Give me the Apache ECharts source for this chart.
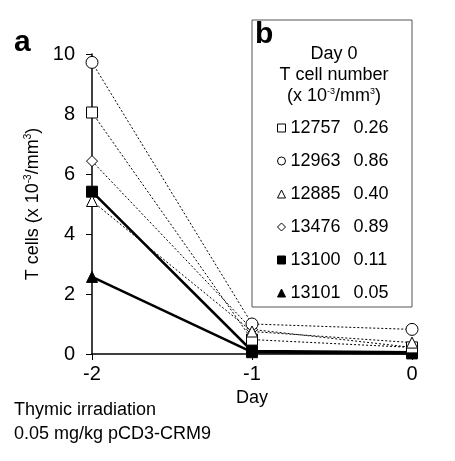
<!DOCTYPE html>
<html><head><meta charset="utf-8">
<script src="https://cdn.jsdelivr.net/npm/echarts@6/dist/echarts.min.js"></script>
<style>html,body{margin:0;padding:0;background:#fff}#c{width:455px;height:461px}</style>
</head><body><div id="c"></div>
<script>
var days = [-2, -1, 0];
var animalIds = ['12757', '12963', '12885', '13476', '13100', '13101'];
var day0Values = ['0.26', '0.86', '0.40', '0.89', '0.11', '0.05'];
var s12757 = [8.05, 0.48, 0.22];
var s12963 = [9.72, 1.0, 0.82];
var s12885 = [5.1, 0.75, 0.38];
var s13476 = [6.43, 0.82, 0.22];
var s13100 = [5.41, 0.1, 0.06];
var s13101 = [2.57, 0.06, 0.02];
var yTicks = [0, 2, 4, 6, 8, 10];
var xTicks = [-2, -1, 0];

var FONT = '"Liberation Sans", Arial, sans-serif';
var values = [s12757, s12963, s12885, s13476, s13100, s13101];
var symbols = ['rect', 'circle', 'triangle', 'diamond', 'rect', 'triangle'];
var filled = [false, false, false, false, true, true];
var sizes = [11, 12, 11, 11, 11, 11];
var zs = [5, 5, 5, 4, 3, 3];

var series = animalIds.map(function (id, i) {
  return {
    name: id, type: 'line',
    data: days.map(function (d, j) { return [d, values[i][j]]; }),
    symbol: symbols[i], symbolSize: sizes[i],
    z: zs[i],
    lineStyle: filled[i] ? { color: '#000', width: 2.5, type: 'solid' } : { color: '#000', width: 1, type: [2, 2] },
    itemStyle: { color: filled[i] ? '#000' : '#fff', borderColor: '#000', borderWidth: 1 },
    animation: false
  };
});

var chart = echarts.init(document.getElementById('c'));
chart.setOption({
  backgroundColor: '#fff',
  animation: false,
  grid: { left: 92, right: 43, top: 54, bottom: 107 },
  xAxis: {
    type: 'value', min: -2, max: 0, interval: 1,
    name: 'Day', nameLocation: 'middle', nameGap: 33,
    nameTextStyle: { fontFamily: FONT, fontSize: 18, color: '#000' },
    axisLine: { lineStyle: { color: '#000', width: 1.5 } },
    axisTick: { show: true, length: 6, lineStyle: { color: '#000' } },
    axisLabel: { fontFamily: FONT, fontSize: 20, color: '#000', margin: 10 },
    splitLine: { show: false }
  },
  yAxis: {
    type: 'value', min: 0, max: 10, interval: 2,
    name: 'T cells (x 10{sup|-3}/mm{sup|3})', nameLocation: 'middle', nameGap: 40, nameRotate: 90,
    nameTextStyle: { fontFamily: FONT, fontSize: 18, color: '#000',
      rich: { sup: { fontFamily: FONT, fontSize: 10, color: '#000', padding: [0, 0, 9, 0] } } },
    axisLine: { show: true, onZero: false, lineStyle: { color: '#000', width: 1.5 } },
    axisTick: { show: true, length: 6, lineStyle: { color: '#000' } },
    axisLabel: { fontFamily: FONT, fontSize: 20, color: '#000', margin: 17 },
    splitLine: { show: false }
  },
  legend: {
    orient: 'vertical', left: 272, top: 114,
    itemWidth: 8, itemHeight: 8, itemGap: 15, itemTextGap: 10,
    data: animalIds.map(function (id, i) {
      return { name: id, icon: symbols[i],
        itemStyle: { color: filled[i] ? '#000' : '#fff', borderColor: '#000', borderWidth: 1 } };
    }),
    formatter: function (name) {
      var i = animalIds.indexOf(name);
      return '{id|' + name + '}{v|' + day0Values[i] + '}';
    },
    textStyle: { fontFamily: FONT, fontSize: 18, color: '#000',
      rich: { id: { fontFamily: FONT, fontSize: 18, width: 63, color: '#000' },
              v: { fontFamily: FONT, fontSize: 18, color: '#000' } } },
    selectedMode: false
  },
  graphic: [
    { type: 'rect', shape: { x: 252, y: 20, width: 160, height: 287 }, style: { fill: 'none', stroke: '#555', lineWidth: 1 }, z: 1 },
    { type: 'text', left: 14, top: 28, style: { text: 'a', font: 'bold 30px ' + FONT, fill: '#000' } },
    { type: 'text', left: 255, top: 20, style: { text: 'b', font: 'bold 30px ' + FONT, fill: '#000' } },
    { type: 'text', x: 334, y: 54, style: { text: 'Day 0', font: '18px ' + FONT, fill: '#000', align: 'center', verticalAlign: 'middle' } },
    { type: 'text', x: 334, y: 75, style: { text: 'T cell number', font: '18px ' + FONT, fill: '#000', align: 'center', verticalAlign: 'middle' } },
    { type: 'text', x: 334, y: 96, style: { text: '(x 10{sup|-3}/mm{sup|3})', font: '18px ' + FONT, fill: '#000', align: 'center', verticalAlign: 'middle',
        rich: { sup: { fontSize: 9, fontFamily: FONT, fill: '#000', padding: [0, 0, 8, 0] } } } },
    { type: 'text', left: 14, top: 401, style: { text: 'Thymic irradiation', font: '18px ' + FONT, fill: '#000' } },
    { type: 'text', left: 14, top: 425, style: { text: '0.05 mg/kg pCD3-CRM9', font: '18px ' + FONT, fill: '#000' } }
  ],
  series: series
});
</script></body></html>
